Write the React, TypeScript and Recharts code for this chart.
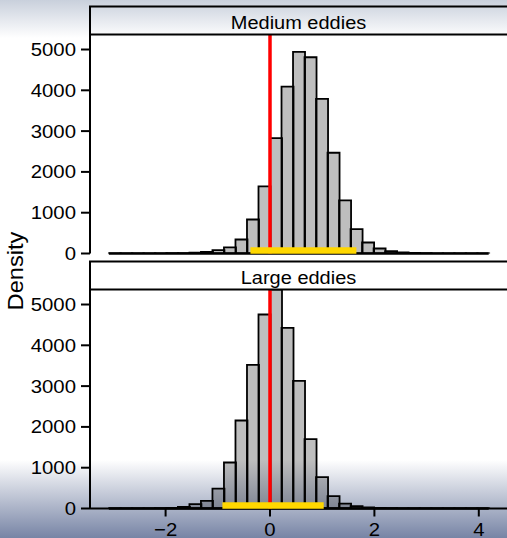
import React from 'react';
import { ComposedChart, Bar, XAxis, YAxis, ReferenceLine } from 'recharts';

// ---------- data ----------
const BIN_WIDTH = 0.2205;
const BIN_INDEX = [-14, -13, -12, -11, -10, -9, -8, -7, -6, -5, -4, -3, -2, -1, 0, 1, 2, 3, 4, 5, 6, 7, 8, 9, 10, 11, 12, 13, 14, 15, 16, 17, 18];
const MEDIUM_DENSITY = [1, 2, 2, 3, 4, 6, 10, 18, 40, 82, 150, 343, 833, 1645, 2830, 4090, 4940, 4810, 3790, 2470, 1300, 598, 270, 122, 55, 25, 12, 6, 4, 3, 2, 1, 1];
const LARGE_DENSITY = [1, 2, 3, 4, 6, 15, 40, 106, 185, 485, 1127, 2157, 3521, 4755, 5368, 4428, 3129, 1699, 768, 305, 118, 60, 28, 14, 8, 5, 3, 2, 2, 1, 1, 1, 1];
const MEDIUM_INTERVAL = [-0.375, 1.655];
const LARGE_INTERVAL = [-0.912, 1.029];
const INTERVAL_LEVEL = 74;
const REFERENCE_X = 0;
const Y_TICKS = [0, 1000, 2000, 3000, 4000, 5000];
const X_TICKS = [-2, 0, 2, 4];
const PANEL_TITLES = ['Medium eddies', 'Large eddies'];
const Y_LABEL = 'Density';

const X_DOMAIN: [number, number] = [-3.4483, 4.9808];
const Y_DOMAIN: [number, number] = [0, 5368];

const FONT = "Arial, 'Liberation Sans', Helvetica, sans-serif";

const makeData = (vals: number[]) =>
  BIN_INDEX.map((k, i) => ({ x: (k + 0.5) * BIN_WIDTH, value: vals[i] }));

const firstEdge = BIN_INDEX[0] * BIN_WIDTH;
const lastEdge = (BIN_INDEX[BIN_INDEX.length - 1] + 1) * BIN_WIDTH;

const fmt = (v: number) => (v < 0 ? '\u2212' + Math.abs(v) : String(v));

const YTick = (props: any) => {
  const { x, y, payload } = props;
  return (
    <text
      x={0}
      y={0}
      transform={`translate(${x} ${y}) scale(1.1 1)`}
      textAnchor="end"
      dy="0.355em"
      fontSize={18.5}
      fontFamily={FONT}
      fill="#000"
    >
      {payload.value}
    </text>
  );
};

const XTick = (props: any) => {
  const { x, y, payload } = props;
  return (
    <text
      x={0}
      y={0}
      transform={`translate(${x} ${y}) scale(1.1 1)`}
      textAnchor="middle"
      dy="0.71em"
      fontSize={18.5}
      fontFamily={FONT}
      fill="#000"
    >
      {fmt(payload.value)}
    </text>
  );
};

const CHART_W = 540;
const PLOT_LEFT = 90;
const X_AXIS_H = 29.5;

function Panel(props: { values: number[]; interval: number[]; showX: boolean; top: number; height: number; bottom: number }) {
  const { values, interval, showX, top, height, bottom } = props;
  const data = makeData(values);
  return (
    <>
      <div style={{ position: 'absolute', left: 0, top }}>
        <ComposedChart
          width={CHART_W}
          height={height}
          data={data}
          margin={{ top: 34.5, right: 10, bottom, left: 0 }}
          barCategoryGap={0}
          barGap={0}
        >
          <XAxis
            type="number"
            dataKey="x"
            domain={X_DOMAIN}
            allowDataOverflow
            ticks={X_TICKS}
            interval={0}
            hide={!showX}
            height={X_AXIS_H}
            axisLine={{ stroke: '#000', strokeWidth: 2 }}
            tickLine={{ stroke: '#000', strokeWidth: 2 }}
            tickSize={8}
            tickMargin={6}
            tick={<XTick />}
          />
          <YAxis
            type="number"
            domain={Y_DOMAIN}
            allowDataOverflow
            ticks={Y_TICKS}
            interval={0}
            width={PLOT_LEFT}
            axisLine={{ stroke: '#000', strokeWidth: 2 }}
            tickLine={{ stroke: '#000', strokeWidth: 2 }}
            tickSize={9}
            tickMargin={5}
            tick={<YTick />}
          />
          <Bar
            dataKey="value"
            fill="#000"
            fillOpacity={0.255}
            stroke="#000"
            strokeWidth={1.8}
            isAnimationActive={false}
          />
          <ReferenceLine
            segment={[{ x: firstEdge, y: 0 }, { x: lastEdge, y: 0 }]}
            stroke="#000"
            strokeWidth={2.5}
          />
        </ComposedChart>
      </div>
      <div style={{ position: 'absolute', left: 0, top }}>
        <ComposedChart
          width={CHART_W}
          height={height}
          data={data}
          margin={{ top: 34.5, right: 10, bottom: showX ? X_AXIS_H : bottom, left: PLOT_LEFT }}
        >
          <XAxis type="number" dataKey="x" domain={X_DOMAIN} allowDataOverflow hide />
          <YAxis type="number" domain={Y_DOMAIN} allowDataOverflow hide />
          <ReferenceLine x={REFERENCE_X} stroke="#FF0000" strokeWidth={3.5} />
          <ReferenceLine
            segment={[{ x: interval[0], y: INTERVAL_LEVEL }, { x: interval[1], y: INTERVAL_LEVEL }]}
            stroke="#FFD700"
            strokeWidth={6.5}
          />
        </ComposedChart>
      </div>
    </>
  );
}

export default function App() {
  return (
    <div
      style={{
        position: 'absolute',
        left: 0,
        top: 0,
        width: 507,
        height: 538,
        overflow: 'hidden',
        background:
          'linear-gradient(to bottom, #c9d0dc 0px, #ffffff 38px, #ffffff 460px, #7784a5 538px)',
      }}
    >
      <Panel values={MEDIUM_DENSITY} interval={MEDIUM_INTERVAL} showX={false} top={0} height={272} bottom={18.5} />
      <Panel values={LARGE_DENSITY} interval={LARGE_INTERVAL} showX={true} top={255} height={283} bottom={0} />
      <svg
        width={507}
        height={538}
        style={{ position: 'absolute', left: 0, top: 0, pointerEvents: 'none' }}
      >
        <rect x={90} y={6.5} width={450} height={28} fill="none" stroke="#000" strokeWidth={2} />
        <text
          x={0}
          y={0}
          transform="translate(298.5 29) scale(1.08 1)"
          textAnchor="middle"
          fontSize={18.5}
          fontFamily={FONT}
          fill="#000"
        >
          {PANEL_TITLES[0]}
        </text>
        <rect x={90} y={261.5} width={450} height={28} fill="none" stroke="#000" strokeWidth={2} />
        <text
          x={0}
          y={0}
          transform="translate(298.5 283.8) scale(1.08 1)"
          textAnchor="middle"
          fontSize={18.5}
          fontFamily={FONT}
          fill="#000"
        >
          {PANEL_TITLES[1]}
        </text>
        <text
          x={0}
          y={0}
          transform="translate(23 271) rotate(-90) scale(1.1 1)"
          textAnchor="middle"
          fontSize={21.5}
          fontFamily={FONT}
          fill="#000"
        >
          {Y_LABEL}
        </text>
      </svg>
    </div>
  );
}
